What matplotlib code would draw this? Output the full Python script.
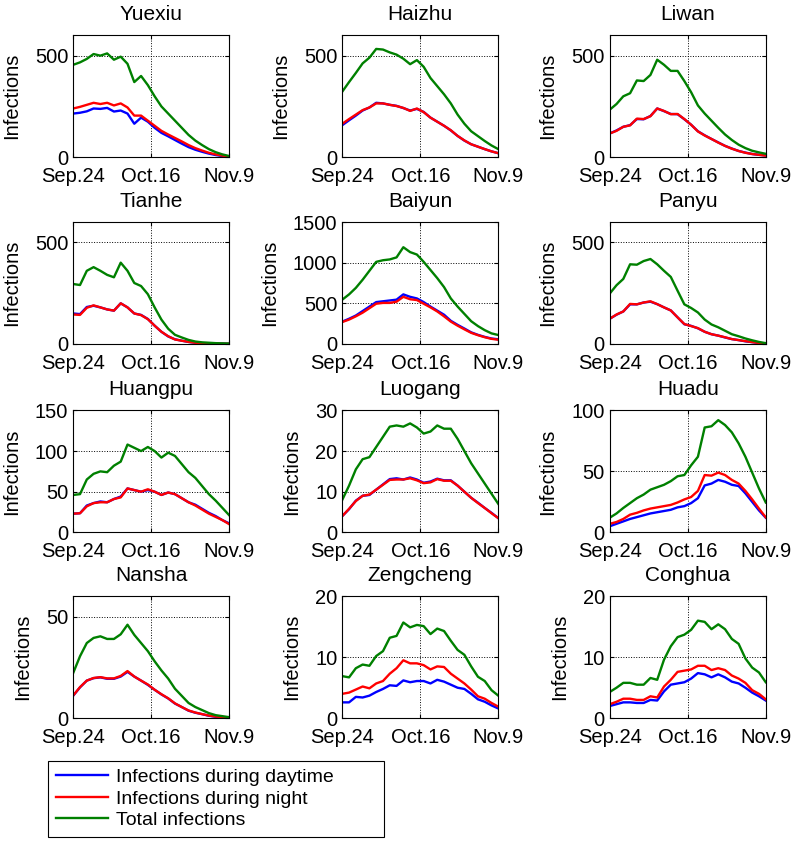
import numpy as np
import matplotlib
matplotlib.use('Agg')
import matplotlib.pyplot as plt

plt.rcParams['font.family'] = ['Liberation Sans', 'DejaVu Sans']

######### data (read every 2 days, Sep.24 .. Nov.9)
days = np.arange(0, 47, 2)
tick_days = [0, 23, 46]
tick_labels = ['Sep.24', 'Oct.16', 'Nov.9']

yuexiu_day = [215, 219, 226, 240, 238, 243, 225, 230, 215, 165, 195, 175, 145, 120, 103, 85, 67, 50, 37, 27, 18, 11, 6, 3]
yuexiu_night = [240, 248, 258, 268, 262, 268, 255, 265, 245, 205, 205, 180, 155, 130, 112, 95, 78, 60, 45, 33, 22, 14, 8, 3]
yuexiu_total = [455, 467, 484, 508, 500, 511, 480, 495, 460, 370, 400, 355, 300, 250, 215, 180, 145, 110, 82, 60, 40, 25, 14, 6]

haizhu_day = [158, 182, 205, 230, 245, 268, 265, 258, 253, 242, 230, 238, 223, 195, 175, 155, 132, 105, 82, 64, 52, 40, 29, 20]
haizhu_night = [165, 188, 210, 232, 245, 265, 265, 258, 252, 243, 228, 240, 222, 195, 175, 155, 133, 105, 83, 64, 52, 40, 29, 20]
haizhu_total = [323, 370, 415, 462, 490, 533, 530, 516, 505, 485, 458, 478, 445, 390, 350, 310, 265, 210, 165, 128, 104, 80, 58, 40]

liwan_day = [117, 132, 150, 158, 188, 187, 203, 240, 227, 213, 212, 187, 160, 128, 108, 90, 73, 56, 43, 31, 23, 16, 12, 9]
liwan_night = [117, 130, 150, 157, 190, 188, 202, 240, 228, 212, 213, 188, 160, 127, 107, 90, 72, 56, 42, 31, 22, 16, 12, 8]
liwan_total = [234, 262, 300, 315, 378, 375, 405, 480, 455, 425, 425, 375, 320, 255, 215, 180, 145, 112, 85, 62, 45, 32, 24, 17]

tianhe_day = [150, 147, 182, 188, 180, 170, 164, 200, 180, 150, 143, 123, 90, 60, 37, 23, 16, 10, 6, 4, 3, 2, 2, 1]
tianhe_night = [145, 143, 178, 190, 180, 170, 164, 200, 180, 150, 142, 122, 90, 60, 38, 22, 16, 10, 6, 4, 3, 2, 1, 1]
tianhe_total = [295, 290, 360, 378, 360, 340, 328, 400, 360, 300, 285, 245, 180, 120, 75, 45, 32, 20, 12, 8, 6, 4, 3, 2]

baiyun_day = [275, 310, 350, 405, 460, 515, 525, 535, 545, 610, 580, 560, 515, 460, 410, 360, 285, 235, 190, 143, 112, 87, 67, 58]
baiyun_night = [270, 300, 340, 385, 440, 495, 505, 505, 520, 580, 550, 540, 495, 450, 400, 340, 275, 225, 180, 137, 108, 83, 63, 52]
baiyun_total = [545, 610, 690, 790, 900, 1010, 1030, 1040, 1065, 1190, 1130, 1100, 1010, 910, 810, 700, 560, 460, 370, 280, 220, 170, 130, 110]

panyu_day = [124, 144, 160, 195, 195, 204, 208, 196, 180, 165, 131, 97, 89, 77, 60, 48, 41, 32, 24, 19, 13, 9, 5, 2]
panyu_night = [124, 145, 160, 197, 195, 204, 210, 196, 180, 165, 131, 98, 88, 78, 60, 48, 41, 33, 24, 19, 14, 9, 5, 2]
panyu_total = [248, 289, 320, 392, 390, 408, 418, 392, 360, 330, 262, 195, 177, 155, 120, 96, 82, 65, 48, 38, 27, 18, 10, 4]

huangpu_day = [23, 23.5, 33, 36, 38, 37, 41, 44, 54, 52, 50, 52, 50, 46, 49, 47, 42, 37, 34, 29, 24, 20, 15, 11]
huangpu_night = [23, 23.5, 32, 36, 37, 37, 41, 43, 54, 52, 50, 53, 50, 46, 49, 47, 42, 37, 33, 28, 23, 19, 15, 10]
huangpu_total = [46, 47, 65, 72, 75, 74, 82, 87, 108, 104, 100, 105, 100, 92, 98, 94, 84, 74, 67, 57, 47, 39, 30, 21]

luogang_day = [4.0, 5.7, 7.8, 9.0, 9.2, 10.5, 11.8, 13.1, 13.3, 13.0, 13.5, 13.0, 12.2, 12.5, 13.2, 12.8, 12.8, 11.5, 10.0, 8.5, 7.3, 6.0, 4.8, 3.5]
luogang_night = [4.0, 5.8, 7.7, 9.0, 9.3, 10.5, 11.7, 12.9, 13.0, 13.0, 13.3, 12.8, 12.1, 12.3, 13.1, 12.7, 12.7, 11.5, 10.0, 8.5, 7.2, 6.0, 4.7, 3.5]
luogang_total = [8.0, 11.5, 15.5, 18.0, 18.5, 21.0, 23.5, 26.0, 26.3, 26.0, 26.8, 25.8, 24.3, 24.8, 26.3, 25.5, 25.5, 23.0, 20.0, 17.0, 14.5, 12.0, 9.5, 7.0]

huadu_day = [5, 7, 9, 11, 12.5, 14, 15.5, 16.5, 17.5, 18.5, 20.5, 21.5, 24, 28, 38.5, 40, 43, 41.5, 39, 38, 32, 25, 18, 12]
huadu_night = [7, 8.5, 11, 14.5, 16, 18, 19.5, 20.5, 21.5, 22.5, 24.5, 27, 29, 34, 47, 46.5, 49, 47, 43, 40, 34, 27, 19.5, 12.3]
huadu_total = [12, 15.5, 20, 24, 28, 31, 35, 37, 39, 42, 46, 47, 55, 62, 86, 87, 92, 88, 82, 73, 62, 49, 36, 24.5]

nansha_day = [11.1, 15.2, 18.5, 19.7, 20.1, 19.4, 19.4, 20.5, 22.8, 20.5, 18.5, 16.4, 14, 11.7, 9.7, 7.2, 5.5, 3.7, 2.7, 2, 1.2, 0.7, 0.5, 0.2]
nansha_night = [11.2, 15.3, 18.5, 19.8, 20.2, 19.6, 19.6, 20.8, 23.2, 20.5, 18.5, 16.6, 14, 11.8, 9.8, 7.3, 5.5, 3.8, 2.8, 2, 1.3, 0.8, 0.5, 0.3]
nansha_total = [22.3, 30.5, 37, 39.5, 40.3, 39, 39, 41.3, 46, 41, 37, 33, 28, 23.5, 19.5, 14.5, 11, 7.5, 5.5, 4, 2.5, 1.5, 1, 0.5]

zengcheng_day = [2.6, 2.6, 3.5, 3.4, 3.7, 4.3, 4.8, 5.4, 5.3, 6.2, 5.9, 6.1, 6.1, 5.7, 6.3, 6.0, 5.5, 5.0, 4.8, 4.0, 3.1, 2.7, 2.1, 1.6]
zengcheng_night = [4.0, 4.2, 4.7, 5.2, 4.9, 5.7, 6.1, 7.3, 8.2, 9.5, 9.0, 9.0, 8.7, 8.0, 8.5, 8.4, 7.3, 6.5, 5.7, 4.7, 3.6, 3.2, 2.5, 1.9]
zengcheng_total = [6.9, 6.7, 8.2, 8.8, 8.6, 10.2, 11.0, 13.2, 13.5, 15.7, 14.9, 15.3, 15.1, 13.8, 14.7, 14.3, 12.7, 11.2, 10.4, 8.5, 6.8, 6.1, 4.6, 3.7]

conghua_day = [2.0, 2.3, 2.6, 2.6, 2.5, 2.5, 3.0, 2.9, 4.4, 5.5, 5.7, 5.9, 6.5, 7.4, 7.2, 6.7, 7.2, 6.7, 6.0, 5.7, 5.0, 4.2, 3.6, 2.9]
conghua_night = [2.3, 2.7, 3.2, 3.2, 3.0, 3.0, 3.6, 3.4, 5.2, 6.3, 7.6, 7.8, 8.0, 8.6, 8.6, 7.9, 8.2, 7.9, 7.0, 6.5, 5.8, 4.6, 4.0, 3.1]
conghua_total = [4.3, 5.0, 5.8, 5.8, 5.5, 5.5, 6.6, 6.3, 9.6, 11.8, 13.3, 13.7, 14.5, 16.0, 15.8, 14.6, 15.4, 14.6, 13.0, 12.2, 9.8, 8.3, 7.5, 5.9]

# name, day, night, total, ylim top, yticks
panels = [
    ('Yuexiu', yuexiu_day, yuexiu_night, yuexiu_total, 600, [0, 500]),
    ('Haizhu', haizhu_day, haizhu_night, haizhu_total, 600, [0, 500]),
    ('Liwan', liwan_day, liwan_night, liwan_total, 600, [0, 500]),
    ('Tianhe', tianhe_day, tianhe_night, tianhe_total, 600, [0, 500]),
    ('Baiyun', baiyun_day, baiyun_night, baiyun_total, 1500, [0, 500, 1000, 1500]),
    ('Panyu', panyu_day, panyu_night, panyu_total, 600, [0, 500]),
    ('Huangpu', huangpu_day, huangpu_night, huangpu_total, 150, [0, 50, 100, 150]),
    ('Luogang', luogang_day, luogang_night, luogang_total, 30, [0, 10, 20, 30]),
    ('Huadu', huadu_day, huadu_night, huadu_total, 100, [0, 50, 100]),
    ('Nansha', nansha_day, nansha_night, nansha_total, 60, [0, 50]),
    ('Zengcheng', zengcheng_day, zengcheng_night, zengcheng_total, 20, [0, 10, 20]),
    ('Conghua', conghua_day, conghua_night, conghua_total, 20, [0, 10, 20]),
]

fig = plt.figure(figsize=(7.96, 8.41), dpi=100)

col_left = [0.092, 0.430, 0.766]
row_bottom = [0.813, 0.591, 0.367, 0.146]
w, h = 0.196, 0.145

for i, (name, d, n, t, ytop, yt) in enumerate(panels):
    r, c = divmod(i, 3)
    ax = fig.add_axes([col_left[c], row_bottom[r], w, h])
    ax.plot(days, d, color='#0000ff', lw=1.7, label='Infections during daytime')
    ax.plot(days, n, color='#ff0000', lw=1.7, label='Infections during night')
    ax.plot(days, t, color='#008000', lw=1.7, label='Total infections')
    ax.set_xlim(0, 46)
    ax.set_ylim(0, ytop)
    ax.set_xticks(tick_days)
    ax.set_xticklabels(tick_labels)
    ax.set_yticks(yt)
    ax.grid(True, linestyle=':', color='black', lw=0.7)
    ax.tick_params(direction='in', length=3, top=True, right=True, labelsize=14.5)
    ax.tick_params(axis='x', pad=7)
    ax.tick_params(axis='y', pad=3.5)
    for s in ax.spines.values():
        s.set_linewidth(0.8)
    ax.set_title(name, fontsize=15, pad=11)
    ax.set_ylabel('Infections', fontsize=14.5, labelpad=10)
    if i == 0:
        handles, labels = ax.get_legend_handles_labels()

leg = fig.legend(handles, labels, loc='lower left',
                 bbox_to_anchor=(0.06, 0.005, 0.423, 0.0975), mode='expand',
                 fontsize=14, fancybox=False, framealpha=1, edgecolor='black',
                 handlelength=2.7, handletextpad=0.4, labelspacing=0.2,
                 borderpad=0.4, borderaxespad=0)
leg.get_frame().set_linewidth(0.8)

fig.savefig('out.png', dpi=100)
